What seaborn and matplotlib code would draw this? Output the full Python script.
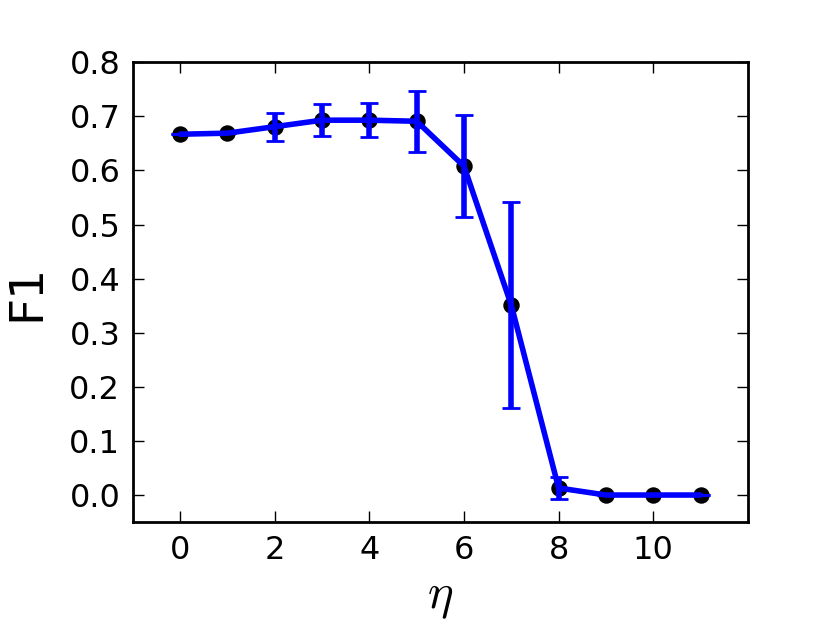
import numpy as np
import pandas as pd
import matplotlib
matplotlib.use("Agg")
import matplotlib.pyplot as plt
import seaborn as sns

# F1 score vs eta, mean and std
eta = [0, 1, 2, 3, 4, 5, 6, 7, 8, 9, 10, 11]
f1_mean = [0.667, 0.669, 0.681, 0.693, 0.693, 0.691, 0.608, 0.351, 0.013, 0.0, 0.0, 0.0]
f1_std = [0.0, 0.0, 0.026, 0.030, 0.032, 0.056, 0.094, 0.190, 0.021, 0.0, 0.0, 0.0]

df = pd.DataFrame({"eta": eta, "F1": f1_mean, "std": f1_std})

sns.set_style("ticks")
plt.rcParams["font.family"] = ["DejaVu Sans"]
plt.rcParams["mathtext.fontset"] = "cm"
plt.rcParams["text.color"] = "black"
plt.rcParams["axes.labelcolor"] = "black"
plt.rcParams["xtick.color"] = "black"
plt.rcParams["ytick.color"] = "black"
plt.rcParams["axes.edgecolor"] = "black"

fig = plt.figure(figsize=(8.3, 6.23), dpi=100)
ax = fig.add_axes([0.160, 0.162, 0.741, 0.738])

sns.scatterplot(x="eta", y="F1", data=df, color="black", s=140,
                edgecolor="black", linewidth=0, zorder=2, ax=ax)
ax.errorbar(df["eta"], df["F1"], yerr=df["std"], fmt="none", ecolor="blue",
            elinewidth=4, capsize=6.5, capthick=2, zorder=3)
sns.lineplot(x="eta", y="F1", data=df, color="blue", linewidth=4,
             zorder=4, ax=ax)

ax.set_xlim(-1, 12)
ax.set_ylim(-0.05, 0.8)
ax.set_xticks([0, 2, 4, 6, 8, 10])
ax.set_yticks(np.arange(0.0, 0.81, 0.1))
ax.set_yticklabels([f"{v:.1f}" for v in np.arange(0.0, 0.81, 0.1)])

ax.tick_params(direction="in", length=8, width=1, labelsize=23,
               top=True, right=True, pad=9, colors="black")
for sp in ax.spines.values():
    sp.set_linewidth(2)
    sp.set_visible(True)

ax.set_xlabel(r"$\eta$", fontsize=35, labelpad=5)
ax.set_ylabel("F1", fontsize=34, labelpad=14)

plt.savefig("out.png", dpi=100)
